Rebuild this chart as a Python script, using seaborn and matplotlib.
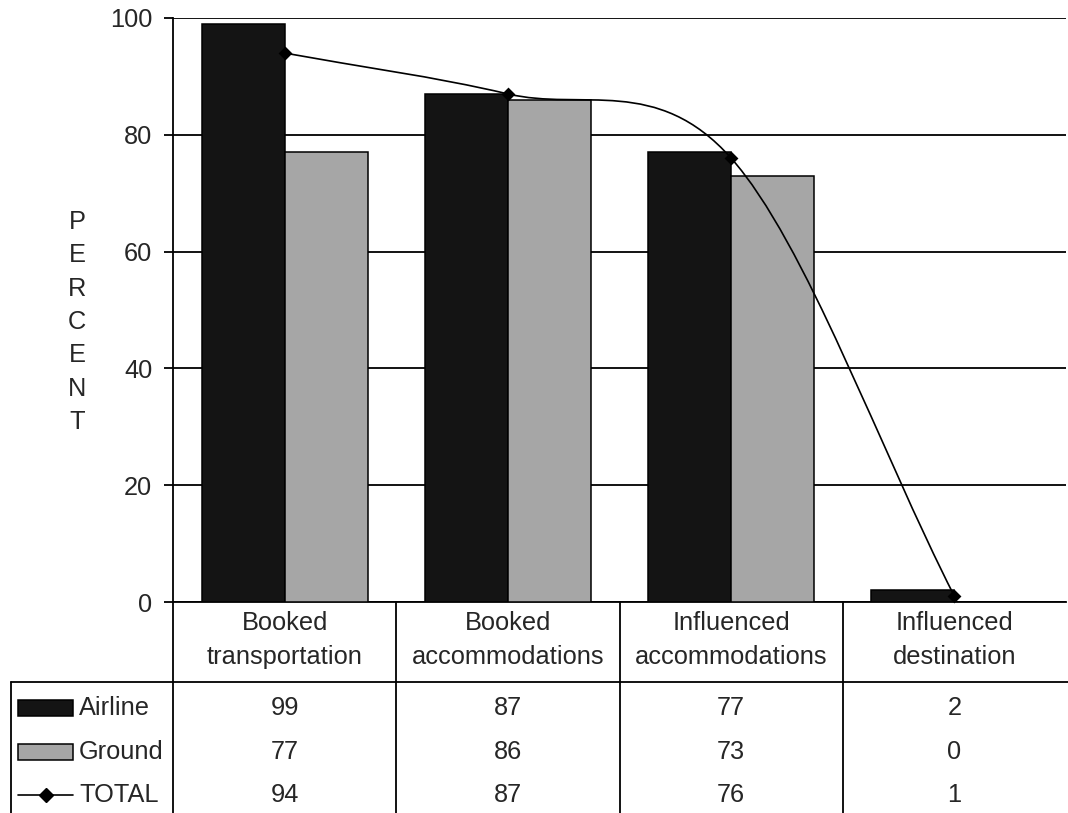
import numpy as np
import pandas as pd
import matplotlib
matplotlib.use("Agg")
import matplotlib.pyplot as plt
import matplotlib.transforms as mtransforms
from matplotlib.path import Path
from matplotlib.patches import PathPatch, Rectangle
from matplotlib.lines import Line2D
import seaborn as sns

# Data
categories = ["Booked\ntransportation", "Booked\naccommodations",
              "Influenced\naccommodations", "Influenced\ndestination"]
airline = [99, 87, 77, 2]
ground = [77, 86, 73, 0]
total = [94, 87, 76, 1]
series_names = ["Airline", "Ground", "TOTAL"]
y_ticks = [0, 20, 40, 60, 80, 100]

sns.set_style("white")
plt.rcParams["font.family"] = ["Liberation Sans", "DejaVu Sans"]

W, H = 1068, 813
FS = 18.3
LS = 1.49
LW = 1.3
colors = {"Airline": "#141414", "Ground": "#a6a6a6"}


def fx(px):
    return px / W


def fy(px):
    return 1 - px / H


fig = plt.figure(figsize=(W / 100, H / 100), dpi=100)
ax = fig.add_axes([fx(173), fy(602), fx(1066 - 173), (602 - 18) / H])

df = pd.DataFrame({
    "category": categories * 2,
    "series": ["Airline"] * len(categories) + ["Ground"] * len(categories),
    "value": airline + ground,
})

sns.barplot(data=df, x="category", y="value", hue="series", palette=colors,
            width=0.744, saturation=1, edgecolor="black", linewidth=1.1,
            legend=False, ax=ax, zorder=3)

# ----------------------------------------------------
# Smoothed TOTAL line (Catmull-Rom style bezier through the points)
# ----------------------------------------------------
xs = np.arange(len(total), dtype=float)
pts = np.column_stack([xs, np.array(total, dtype=float)])
tang = np.zeros_like(pts)
tang[0] = pts[1] - pts[0]
tang[-1] = pts[-1] - pts[-2]
tang[1:-1] = (pts[2:] - pts[:-2]) / 2
verts = [pts[0]]
codes = [Path.MOVETO]
for i in range(len(pts) - 1):
    verts += [pts[i] + tang[i] / 3, pts[i + 1] - tang[i + 1] / 3, pts[i + 1]]
    codes += [Path.CURVE4] * 3
ax.add_patch(PathPatch(Path(verts, codes), fill=False, edgecolor="black",
                       lw=1.2, zorder=4, clip_on=False))
sns.scatterplot(x=xs, y=total, marker="D", s=50, color="black",
                edgecolor="black", linewidth=0, ax=ax, zorder=5,
                clip_on=False, legend=False)

# Axes styling
ax.set_xlim(-0.5, len(categories) - 0.5)
ax.set_ylim(0, 100)
ax.set_yticks(y_ticks)
ax.set_xticks([])
ax.set_xlabel("")
ax.set_ylabel("")
ax.yaxis.grid(True, color="black", lw=LW)
ax.set_axisbelow(True)
for side in ["top", "right"]:
    ax.spines[side].set_visible(False)
for side in ["left", "bottom"]:
    ax.spines[side].set_color("black")
    ax.spines[side].set_linewidth(LW)
ax.tick_params(axis="y", direction="out", length=6.5, width=LW,
               color="black", pad=8.5, labelsize=FS, left=True)

fig.text(fx(77), fy(322), "\n".join("PERCENT"), ha="center", va="center",
         fontsize=FS, linespacing=LS)

# ----------------------------------------------------
# Data table below the axis
# ----------------------------------------------------
bt = mtransforms.blended_transform_factory(ax.transData, fig.transFigure)
line_kw = dict(color="black", lw=LW, clip_on=False)

for xb in [-0.5, 0.5, 1.5, 2.5]:
    ax.add_line(Line2D([xb, xb], [fy(602), 0], transform=bt, **line_kw))
fig.add_artist(Line2D([fx(11), 1], [fy(682), fy(682)], transform=fig.transFigure, **line_kw))
fig.add_artist(Line2D([fx(11), fx(11)], [fy(682), 0], transform=fig.transFigure, **line_kw))

for i, cat in enumerate(categories):
    ax.text(i, fy(640), cat, transform=bt, ha="center", va="center",
            fontsize=FS, linespacing=LS)

row_y = [708, 752, 795]
rows = [airline, ground, total]
for name, vals, ry in zip(series_names, rows, row_y):
    if name in colors:
        fig.add_artist(Rectangle((fx(18), fy(ry + 8)), fx(55), 16 / H,
                                 facecolor=colors[name], edgecolor="black",
                                 lw=1.1, transform=fig.transFigure))
    else:
        fig.add_artist(Line2D([fx(18), fx(73)], [fy(ry), fy(ry)], color="black",
                              lw=1.2, transform=fig.transFigure))
        fig.add_artist(Line2D([fx(45.5)], [fy(ry)], marker="D", markersize=7,
                              color="black", transform=fig.transFigure))
    fig.text(fx(79), fy(ry), name, ha="left", va="center", fontsize=FS)
    for i, v in enumerate(vals):
        ax.text(i, fy(ry), str(v), transform=bt, ha="center", va="center",
                fontsize=FS)

fig.savefig("out.png", dpi=100)
